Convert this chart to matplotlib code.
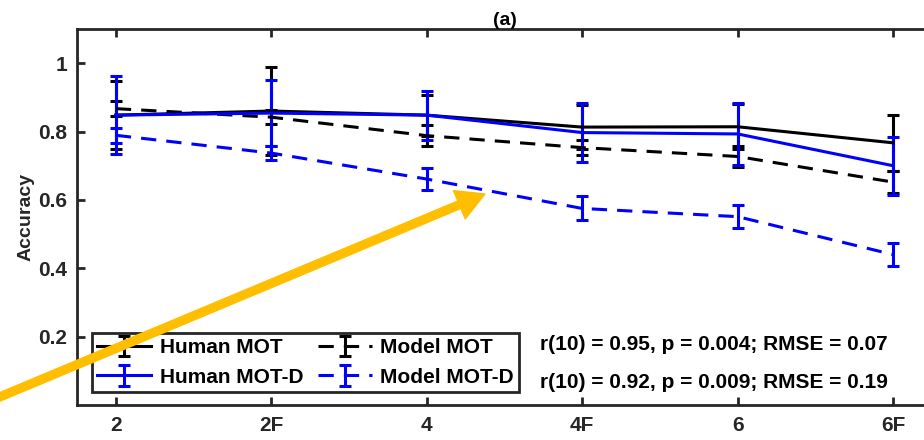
import matplotlib.pyplot as plt
from matplotlib.patches import FancyArrowPatch

plt.rcParams['font.family'] = ['Liberation Sans', 'DejaVu Sans']
plt.rcParams['font.weight'] = 'bold'

# conditions on the x axis
conditions = ["2", "2F", "4", "4F", "6", "6F"]

# mean accuracy and error per series
human_mot = [0.848, 0.860, 0.848, 0.813, 0.814, 0.767]
human_mot_err = [0.100, 0.130, 0.060, 0.065, 0.066, 0.082]
human_motd = [0.848, 0.854, 0.848, 0.797, 0.793, 0.700]
human_motd_err = [0.114, 0.097, 0.072, 0.087, 0.090, 0.085]
model_mot = [0.867, 0.842, 0.788, 0.753, 0.727, 0.652]
model_mot_err = [0.021, 0.020, 0.031, 0.022, 0.030, 0.033]
model_motd = [0.789, 0.737, 0.661, 0.575, 0.551, 0.440]
model_motd_err = [0.022, 0.020, 0.032, 0.035, 0.034, 0.033]

stats_text = ["r(10) = 0.95, p = 0.004; RMSE = 0.07",
              "r(10) = 0.92, p = 0.009; RMSE = 0.19"]

x = list(range(1, len(conditions) + 1))
dark = "#262626"
dash = (0, (5, 3.3))

fig = plt.figure(figsize=(9.24, 4.4), dpi=100)
ax = fig.add_axes([77 / 924, 35 / 440, 855 / 924, 376 / 440])

common = dict(linewidth=2.2, elinewidth=2.2, capsize=4.5, capthick=2.2)
h1 = ax.errorbar(x, human_mot, yerr=human_mot_err, color="black",
                 label="Human MOT", **common)
h3 = ax.errorbar(x, model_mot, yerr=model_mot_err, color="black",
                 linestyle=dash, label="Model MOT", **common)
h2 = ax.errorbar(x, human_motd, yerr=human_motd_err, color="blue",
                 label="Human MOT-D", **common)
h4 = ax.errorbar(x, model_motd, yerr=model_motd_err, color="blue",
                 linestyle=dash, label="Model MOT-D", **common)

ax.set_xlim(0.75, 6.25)
ax.set_ylim(0, 1.1)
ax.set_xticks(x)
ax.set_xticklabels(conditions)
ax.set_yticks([0.2, 0.4, 0.6, 0.8, 1.0])
ax.set_yticklabels(["0.2", "0.4", "0.6", "0.8", "1"])
ax.tick_params(direction="in", length=6, width=2, top=True, right=True,
               labelsize=15, colors=dark, labelcolor=dark)
ax.tick_params(axis="x", pad=8)
ax.tick_params(axis="y", pad=7)
for s in ax.spines.values():
    s.set_linewidth(2)
    s.set_color(dark)

ax.set_ylabel("Accuracy", fontsize=14, fontweight="bold", color=dark, labelpad=3)
ax.set_title("(a)", fontsize=14, fontweight="bold", pad=3)

leg = ax.legend([h1, h2, h3, h4],
                ["Human MOT", "Human MOT-D", "Model MOT", "Model MOT-D"],
                ncol=2, loc="lower left", bbox_to_anchor=(0.0175, 0.035),
                borderaxespad=0, fancybox=False, framealpha=1,
                edgecolor=dark, fontsize=15, handlelength=2.6,
                handletextpad=0.4, columnspacing=0.7, labelspacing=0.5,
                borderpad=0.25)
leg.get_frame().set_linewidth(2)

for i, t in enumerate(stats_text):
    ax.text(3.727, 0.176 - i * 0.109, t, fontsize=15, fontweight="bold",
            va="center", ha="left")

arrow = FancyArrowPatch((-10 / 924, 39 / 440), (485 / 924, 246 / 440),
                        transform=fig.transFigure, color="#FFBF00",
                        arrowstyle="simple,head_length=20,head_width=22,tail_width=5.8",
                        mutation_scale=1, shrinkA=0, shrinkB=0)
fig.add_artist(arrow)

fig.savefig("out.png", dpi=100)
